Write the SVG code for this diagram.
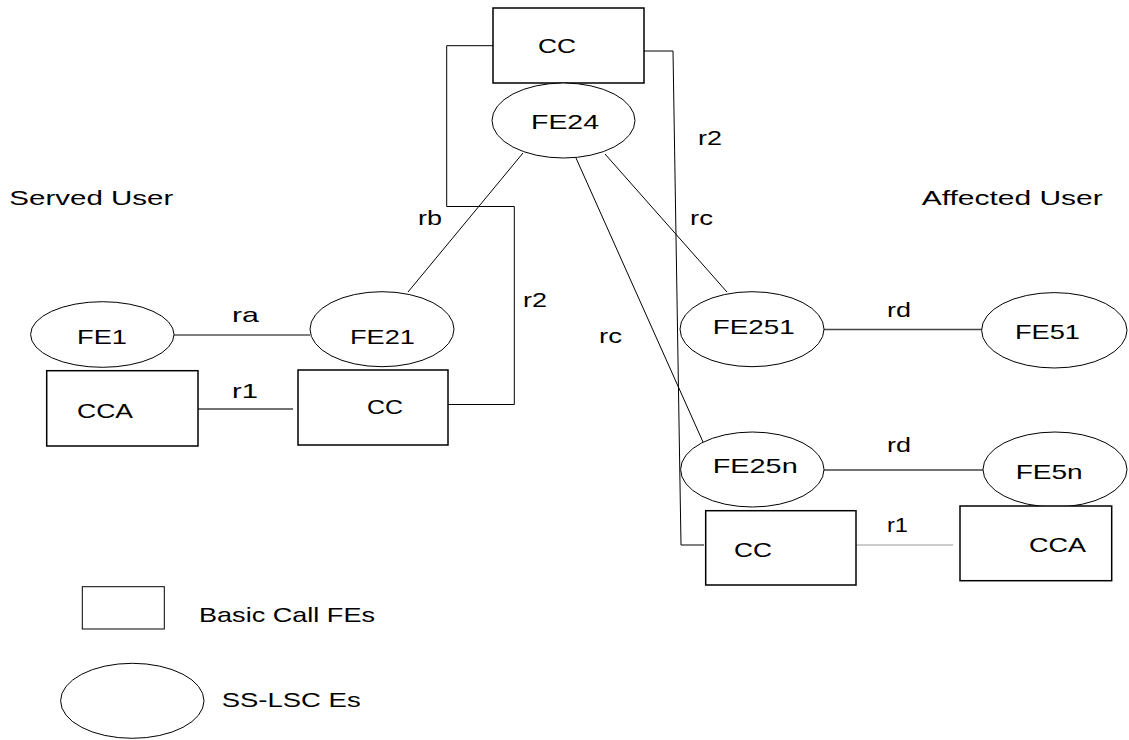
<svg xmlns="http://www.w3.org/2000/svg" width="1129" height="740" viewBox="0 0 1129 740">
<style>
  .box { fill: #fff; stroke: #000; stroke-width: 1.5; }
  .ell { fill: #fff; stroke: #000; stroke-width: 1; }
  .ln { fill: none; stroke: #000; stroke-width: 1; }
  .lng { fill: none; stroke: #444; stroke-width: 1.5; }
  .lnl { fill: none; stroke: #999; stroke-width: 1; }
  text { font-family: "Liberation Sans", Arial, sans-serif; font-size: 21px; fill: #000; }
</style>
<rect width="1129" height="740" fill="#fff"/>

<g id="connectors">
  <line class="ln" x1="174" y1="335" x2="310" y2="335"/>
  <line class="lng" x1="198" y1="409" x2="293" y2="409"/>
  <line class="ln" x1="408" y1="292" x2="523" y2="153"/>
  <polyline class="ln" points="493,45.7 446.7,45.7 446.7,206.5 514.3,206.5 514.3,404.5 448,404.5"/>
  <polyline class="ln" points="644,51 673,51 681,545 704,545"/>
  <line class="ln" x1="605" y1="154" x2="727" y2="292"/>
  <line class="ln" x1="576" y1="158" x2="703" y2="442"/>
  <line class="lng" x1="824" y1="329.5" x2="982" y2="329.5"/>
  <line class="lng" x1="824" y1="470" x2="983" y2="470"/>
  <line class="lnl" x1="856" y1="545" x2="953" y2="545"/>
  <text x="232" y="322" textLength="27" lengthAdjust="spacingAndGlyphs">ra</text>
  <text x="232" y="398" textLength="26" lengthAdjust="spacingAndGlyphs">r1</text>
  <text x="418" y="225" textLength="24" lengthAdjust="spacingAndGlyphs">rb</text>
  <text x="523" y="307" textLength="24" lengthAdjust="spacingAndGlyphs">r2</text>
  <text x="698" y="145" textLength="24" lengthAdjust="spacingAndGlyphs">r2</text>
  <text x="690" y="225" textLength="23" lengthAdjust="spacingAndGlyphs">rc</text>
  <text x="599" y="343" textLength="23" lengthAdjust="spacingAndGlyphs">rc</text>
  <text x="887" y="317" textLength="24" lengthAdjust="spacingAndGlyphs">rd</text>
  <text x="887" y="452" textLength="24" lengthAdjust="spacingAndGlyphs">rd</text>
  <text x="887" y="532" textLength="21" lengthAdjust="spacingAndGlyphs">r1</text>
</g>

<g id="cc-top">
  <rect class="box" x="493" y="8" width="151" height="75"/>
  <text x="538" y="53" textLength="38" lengthAdjust="spacingAndGlyphs">CC</text>
</g>
<g id="fe24">
  <ellipse class="ell" cx="563.5" cy="120.5" rx="71.5" ry="37.5"/>
  <text x="531" y="129" textLength="68" lengthAdjust="spacingAndGlyphs">FE24</text>
</g>
<g id="fe1">
  <ellipse class="ell" cx="102.3" cy="334.5" rx="71.7" ry="32.8"/>
  <text x="77" y="344" textLength="50" lengthAdjust="spacingAndGlyphs">FE1</text>
</g>
<g id="fe21">
  <ellipse class="ell" cx="382" cy="329.2" rx="72" ry="37.5"/>
  <text x="350" y="344" textLength="65" lengthAdjust="spacingAndGlyphs">FE21</text>
</g>
<g id="cca-left">
  <rect class="box" x="46.7" y="370.7" width="151.3" height="75.3"/>
  <text x="77" y="418" textLength="56" lengthAdjust="spacingAndGlyphs">CCA</text>
</g>
<g id="cc-mid">
  <rect class="box" x="298" y="370" width="150" height="75"/>
  <text x="367" y="414" textLength="36" lengthAdjust="spacingAndGlyphs">CC</text>
</g>
<g id="fe251">
  <ellipse class="ell" cx="752" cy="329.2" rx="72" ry="37.5"/>
  <text x="712.7" y="334" textLength="82" lengthAdjust="spacingAndGlyphs">FE251</text>
</g>
<g id="fe51">
  <ellipse class="ell" cx="1054.3" cy="330.3" rx="72.7" ry="37.7"/>
  <text x="1015" y="339" textLength="65" lengthAdjust="spacingAndGlyphs">FE51</text>
</g>
<g id="fe25n">
  <ellipse class="ell" cx="752.3" cy="469.5" rx="71.7" ry="37.5"/>
  <text x="712.7" y="472.7" textLength="85" lengthAdjust="spacingAndGlyphs">FE25n</text>
</g>
<g id="fe5n">
  <ellipse class="ell" cx="1055" cy="469.5" rx="72" ry="37.5"/>
  <text x="1015.7" y="479" textLength="67" lengthAdjust="spacingAndGlyphs">FE5n</text>
</g>
<g id="cc-right">
  <rect class="box" x="705.7" y="510.7" width="150.3" height="74.3"/>
  <text x="734" y="556.7" textLength="38" lengthAdjust="spacingAndGlyphs">CC</text>
</g>
<g id="cca-right">
  <rect class="box" x="960" y="506" width="151.7" height="74.7"/>
  <text x="1029" y="552" textLength="57" lengthAdjust="spacingAndGlyphs">CCA</text>
</g>

<g id="labels">
  <text x="9.3" y="205" textLength="164" lengthAdjust="spacingAndGlyphs">Served User</text>
  <text x="921.7" y="205" textLength="181" lengthAdjust="spacingAndGlyphs">Affected User</text>
</g>

<g id="legend">
  <rect x="82.3" y="586.7" width="82" height="42.3" fill="#fff" stroke="#000" stroke-width="1"/>
  <text x="199" y="621.7" textLength="176" lengthAdjust="spacingAndGlyphs">Basic Call FEs</text>
  <ellipse class="ell" cx="132.3" cy="700.8" rx="71.7" ry="37.5"/>
  <text x="221.7" y="706.7" textLength="139" lengthAdjust="spacingAndGlyphs">SS-LSC Es</text>
</g>
</svg>
